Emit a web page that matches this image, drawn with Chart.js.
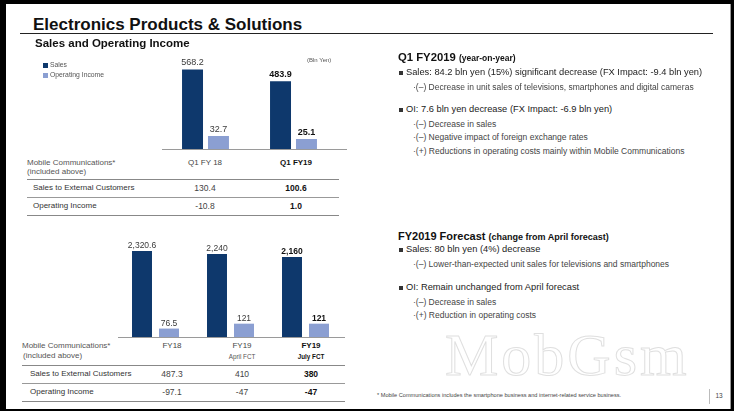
<!DOCTYPE html>
<html>
<head>
<meta charset="utf-8">
<script src="https://cdn.jsdelivr.net/npm/chart.js@4.4.1/dist/chart.umd.min.js"></script>
<style>
  html, body { margin:0; padding:0; width:734px; height:411px; overflow:hidden; background:#000; }
  #slide { position:absolute; left:6px; top:4px; width:724px; height:405px; background:#fff; }
  #edge { position:absolute; left:730px; top:4px; width:1px; height:405px; background:#9a9a9a; }
  #layer { position:absolute; left:0; top:0; width:734px; height:411px; font-family:"Liberation Sans", Arial, sans-serif; }
  .t { position:absolute; white-space:nowrap; line-height:1; }
  .hr { position:absolute; height:1px; background:#8c8c8c; }
  canvas { position:absolute; }
  #wm { position:absolute; left:445px; top:331px; font-family:"Liberation Serif", serif; font-size:60px; line-height:0.8;
        letter-spacing:3px; color:transparent; -webkit-text-stroke:1px rgba(175,175,175,0.4); white-space:nowrap; }
</style>
</head>
<body>
<div id="slide"></div>
<div id="edge"></div>
<div id="layer">
  <div id="wm">MobGsm</div>
  <canvas id="topChart" width="188" height="100" style="left:160px;top:50px;"></canvas>
  <canvas id="bottomChart" width="231" height="108" style="left:116px;top:230px;"></canvas>
</div>
<script>
// ---------- data ----------
const seriesNames = ['Sales', 'Operating Income'];

const topCategories = ['Q1 FY18', 'Q1 FY19'];
const topSales = [568.2, 483.9];
const topOperatingIncome = [32.7, 25.1];
const topMobileHeaders = [['Q1 FY 18'], ['Q1 FY19']];
const topMobileSales = ['130.4', '100.6'];
const topMobileOI = ['-10.8', '1.0'];

const bottomCategories = ['FY18', 'FY19 April FCT', 'FY19 July FCT'];
const bottomSales = [2320.6, 2240, 2160];
const bottomOperatingIncome = [76.5, 121, 121];
const bottomMobileHeaders = [['FY18'], ['FY19', 'April FCT'], ['FY19', 'July FCT']];
const bottomMobileSales = ['487.3', '410', '380'];
const bottomMobileOI = ['-97.1', '-47', '-47'];

// ---------- styles ----------
const NAVY = '#0e386c';
const LIGHT = '#8b9fd2';
const FONT = '"Liberation Sans", Arial, sans-serif';
const layer = document.getElementById('layer');

function txt(x, y, s, o) {
  o = o || {};
  const d = document.createElement('div');
  d.className = 't';
  d.textContent = s;
  d.style.left = x + 'px';
  d.style.top = y + 'px';
  d.style.fontSize = (o.size || 8) + 'px';
  if (o.bold) d.style.fontWeight = 'bold';
  d.style.color = o.color || '#333';
  d.style.transform = o.center ? 'translate(-50%,-50%)' : 'translate(0,-50%)';
  layer.appendChild(d);
  return d;
}
function hr(x1, x2, y, color, h) {
  const d = document.createElement('div');
  d.className = 'hr';
  d.style.left = x1 + 'px';
  d.style.width = (x2 - x1) + 'px';
  d.style.top = y + 'px';
  if (color) d.style.background = color;
  if (h) d.style.height = h + 'px';
  layer.appendChild(d);
}
function box(x, y, w, h, c) {
  const d = document.createElement('div');
  d.style.position = 'absolute';
  d.style.left = x + 'px'; d.style.top = y + 'px';
  d.style.width = w + 'px'; d.style.height = h + 'px';
  d.style.background = c;
  layer.appendChild(d);
}

// ---------- chart plugins ----------
const valueLabels = {
  id: 'valueLabels',
  afterDatasetsDraw(chart, args, opts) {
    const ctx = chart.ctx;
    chart.data.datasets.forEach((ds, di) => {
      const meta = chart.getDatasetMeta(di);
      meta.data.forEach((bar, i) => {
        const bold = i === opts.boldIndex;
        ctx.save();
        ctx.font = (bold ? 'bold ' : '') + opts.size + 'px ' + FONT;
        ctx.fillStyle = bold ? '#111' : '#3a3a3a';
        ctx.textAlign = 'center';
        ctx.textBaseline = 'alphabetic';
        const v = ds.data[i];
        ctx.fillText(v.toLocaleString('en-US', { maximumFractionDigits: 1 }), bar.x, bar.y - opts.gap);
        ctx.restore();
      });
    });
  }
};
const baseLine = {
  id: 'baseLine',
  afterDatasetsDraw(chart, args, opts) {
    const ctx = chart.ctx;
    ctx.save();
    ctx.strokeStyle = '#9a9a9a';
    ctx.lineWidth = 1;
    ctx.beginPath();
    const y = Math.round(chart.chartArea.bottom) + 0.5;
    ctx.moveTo(opts.x1, y);
    ctx.lineTo(opts.x2, y);
    ctx.stroke();
    ctx.restore();
  }
};

function makeChart(id, cats, sales, oi, cfg) {
  return new Chart(document.getElementById(id), {
    type: 'bar',
    data: {
      labels: cats,
      datasets: [
        { label: seriesNames[0], data: sales, backgroundColor: NAVY, yAxisID: 'y',
          categoryPercentage: cfg.catPct, barPercentage: cfg.barPct },
        { label: seriesNames[1], data: oi, backgroundColor: LIGHT, yAxisID: 'y2',
          categoryPercentage: cfg.catPct, barPercentage: cfg.barPct }
      ]
    },
    options: {
      responsive: false,
      animation: false,
      devicePixelRatio: 1,
      layout: { padding: cfg.pad },
      plugins: {
        legend: { display: false },
        tooltip: { enabled: false },
        valueLabels: { boldIndex: cats.length - 1, size: cfg.labelSize, gap: cfg.gap },
        baseLine: { x1: cfg.lineX1, x2: cfg.lineX2 }
      },
      scales: {
        x: { display: false },
        y: { display: false, min: 0, max: cfg.salesMax },
        y2: { display: false, min: 0, max: cfg.oiMax, position: 'right' }
      }
    },
    plugins: [valueLabels, baseLine]
  });
}

makeChart('topChart', topCategories, topSales, topOperatingIncome, {
  catPct: 0.59, barPct: 0.808,
  pad: { left: 1.5, right: 10.5, top: 15, bottom: 1 },
  salesMax: 600, oiMax: 210, labelSize: 9, gap: 4,
  lineX1: 2, lineX2: 187
});
makeChart('bottomChart', bottomCategories, bottomSales, bottomOperatingIncome, {
  catPct: 0.72, barPct: 0.74,
  pad: { left: 2, right: 4, top: 20, bottom: 1 },
  salesMax: 2350, oiMax: 790, labelSize: 8.5, gap: 3,
  lineX1: 2, lineX2: 229
});

// ---------- title ----------
txt(33, 24, 'Electronics Products & Solutions', { size: 17, bold: true, color: '#111' });
hr(20, 713, 33, '#222');
txt(35, 44, 'Sales and Operating Income', { size: 11.5, bold: true, color: '#111' });

// legend
box(43, 62.5, 5, 5, NAVY);
txt(50, 65, seriesNames[0], { size: 6.8, color: '#555' });
box(43, 72.5, 5, 5, LIGHT);
txt(50, 75, seriesNames[1], { size: 6.8, color: '#555' });
txt(307, 60, '(Bln Yen)', { size: 6, color: '#555' });

// ---------- top table ----------
const topCols = [205, 296];
txt(27, 163, 'Mobile Communications*', { size: 8, color: '#555' });
txt(27, 172, '(included above)', { size: 8, color: '#555' });
topMobileHeaders.forEach((h, i) => {
  const last = i === topMobileHeaders.length - 1;
  txt(topCols[i], 163, h[0], { size: 8, bold: last, center: true, color: last ? '#111' : '#444' });
});
hr(27, 339, 179, '#888');
txt(33, 187.5, 'Sales to External Customers', { size: 8, color: '#333' });
topMobileSales.forEach((v, i) => {
  const last = i === topMobileSales.length - 1;
  txt(topCols[i], 187.5, v, { size: 8.5, bold: last, center: true, color: last ? '#111' : '#444' });
});
hr(27, 339, 197, '#999');
txt(33, 205.5, 'Operating Income', { size: 8, color: '#333' });
topMobileOI.forEach((v, i) => {
  const last = i === topMobileOI.length - 1;
  txt(topCols[i], 205.5, v, { size: 8.5, bold: last, center: true, color: last ? '#111' : '#444' });
});
hr(27, 339, 215, '#888');

// ---------- bottom table ----------
const botCols = [172, 242, 311];
txt(22, 346, 'Mobile Communications*', { size: 8, color: '#555' });
txt(23, 356, '(included above)', { size: 8, color: '#555' });
bottomMobileHeaders.forEach((h, i) => {
  const last = i === bottomMobileHeaders.length - 1;
  txt(botCols[i], 346, h[0], { size: 8, bold: last, center: true, color: last ? '#111' : '#444' });
  if (h[1]) txt(botCols[i], 357, h[1], { size: 6.3, bold: last, center: true, color: last ? '#111' : '#555' });
});
hr(22, 345, 365, '#888');
txt(30, 373.5, 'Sales to External Customers', { size: 8, color: '#333' });
bottomMobileSales.forEach((v, i) => {
  const last = i === bottomMobileSales.length - 1;
  txt(botCols[i], 373.5, v, { size: 8.5, bold: last, center: true, color: last ? '#111' : '#444' });
});
hr(22, 345, 383, '#999');
txt(30, 392, 'Operating Income', { size: 8, color: '#333' });
bottomMobileOI.forEach((v, i) => {
  const last = i === bottomMobileOI.length - 1;
  txt(botCols[i], 392, v, { size: 8.5, bold: last, center: true, color: last ? '#111' : '#444' });
});
hr(22, 345, 401, '#888');

// ---------- right commentary ----------
function heading(y, main, sub, mainSize, subSize) {
  const d = txt(398, y, '', { size: mainSize, bold: true, color: '#111' });
  d.textContent = main + ' ';
  const s = document.createElement('span');
  s.style.fontSize = subSize + 'px';
  s.textContent = sub;
  d.appendChild(s);
}
function bullet(y, s) {
  box(399, y - 2, 4, 4, '#333');
  txt(406, y, s, { size: 9.3, color: '#222' });
}
function sub(y, s) {
  txt(413, y, s, { size: 8.5, color: '#444' });
}
heading(58, 'Q1 FY2019', '(year-on-year)', 11.3, 8.5);
bullet(73, 'Sales: 84.2 bln yen (15%) significant decrease (FX Impact: -9.4 bln yen)');
sub(86.5, '\u00b7(\u2013) Decrease in unit sales of televisions, smartphones and digital cameras');
bullet(110, 'OI: 7.6 bln yen decrease (FX Impact: -6.9 bln yen)');
sub(123.5, '\u00b7(\u2013) Decrease in sales');
sub(137, '\u00b7(\u2013) Negative impact of foreign exchange rates');
sub(150.5, '\u00b7(+) Reductions in operating costs mainly within Mobile Communications');

heading(236, 'FY2019 Forecast', ' (change from April forecast)', 11, 9);
bullet(250, 'Sales: 80 bln yen (4%) decrease');
sub(264, '\u00b7(\u2013) Lower-than-expected unit sales for televisions and smartphones');
bullet(288, 'OI: Remain unchanged from April forecast');
sub(301.5, '\u00b7(\u2013) Decrease in sales');
sub(315, '\u00b7(+) Reduction in operating costs');

// footnote & page number
txt(377, 396, '* Mobile Communications includes the smartphone business and internet-related service business.', { size: 5.6, color: '#444' });
box(709, 389, 1, 15, '#bbb');
txt(719, 396, '13', { size: 6.5, center: true, color: '#444' });
</script>
</body>
</html>
